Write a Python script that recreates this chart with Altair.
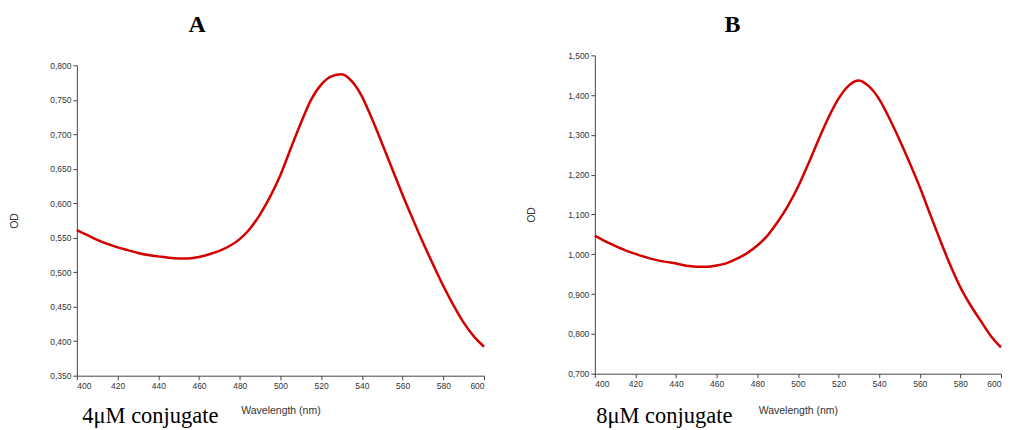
import altair as alt
import pandas as pd

wavelength = list(range(400, 601, 5))

od_4um = [0.561, 0.554, 0.547, 0.541, 0.536, 0.532, 0.528, 0.525, 0.523, 0.521,
          0.520, 0.520, 0.522, 0.526, 0.531, 0.538, 0.548, 0.563, 0.584, 0.610,
          0.641, 0.679, 0.716, 0.750, 0.772, 0.784, 0.787, 0.777, 0.755, 0.722,
          0.686, 0.649, 0.612, 0.577, 0.543, 0.511, 0.480, 0.452, 0.427, 0.407,
          0.392]

od_8um = [1.047, 1.033, 1.021, 1.010, 1.001, 0.993, 0.986, 0.981, 0.977, 0.971,
          0.969, 0.969, 0.972, 0.978, 0.989, 1.003, 1.022, 1.047, 1.081, 1.121,
          1.169, 1.226, 1.286, 1.343, 1.391, 1.424, 1.437, 1.422, 1.390, 1.342,
          1.288, 1.230, 1.169, 1.102, 1.036, 0.973, 0.917, 0.872, 0.833, 0.795,
          0.766]

x_ticks = list(range(400, 601, 20))
y_ticks_a = [0.35, 0.40, 0.45, 0.50, 0.55, 0.60, 0.65, 0.70, 0.75, 0.80]
y_ticks_b = [0.7, 0.8, 0.9, 1.0, 1.1, 1.2, 1.3, 1.4, 1.5]

panel_titles = ["A", "B"]
captions = ["4μM conjugate", "8μM conjugate"]

RED = "#d40000"
SERIF = "Liberation Serif"
SANS = "Liberation Sans"
label_expr = "replace(format(datum.value, '.3f'), '.', ',')"

W, H = 996, 422

# pixel frames of the two panels inside the single canvas
A_X, A_Y = [69, 477], [368, 57]
B_X, B_Y = [588, 995], [366, 47]


def curve(values, y_domain, y_ticks, xr, yr, od_title_dx, wl_title_dy):
    df = pd.DataFrame({"Wavelength": wavelength, "OD": values})
    x = alt.X("Wavelength:Q",
              scale=alt.Scale(domain=[400, 600], range=xr, nice=False, zero=False),
              axis=alt.Axis(orient="bottom", offset=-(H - yr[0]), values=x_ticks,
                            format="d", title="Wavelength (nm)",
                            titleX=(xr[0] + xr[1]) / 2, titleY=wl_title_dy,
                            titleAlign="center", titleBaseline="middle"))
    y = alt.Y("OD:Q",
              scale=alt.Scale(domain=y_domain, range=yr, nice=False, zero=False),
              axis=alt.Axis(orient="left", offset=-xr[0], values=y_ticks,
                            labelExpr=label_expr, title="OD",
                            titleX=od_title_dx, titleY=(yr[0] + yr[1]) / 2,
                            titleAlign="center", titleBaseline="middle",
                            titleAngle=270))
    return alt.Chart(df).mark_line(color=RED, strokeWidth=2.5,
                                   interpolate="monotone").encode(x=x, y=y)


def label(text, x, y, size, weight, align, baseline):
    one = pd.DataFrame({"t": [text]})
    return alt.Chart(one).mark_text(font=SERIF, fontSize=size, fontWeight=weight,
                                    color="#000", align=align, baseline=baseline).encode(
        x=alt.value(x), y=alt.value(y), text="t:N")


line_a = curve(od_4um, [0.35, 0.80], y_ticks_a, A_X, A_Y, -62, 35)
line_b = curve(od_8um, [0.70, 1.50], y_ticks_b, B_X, B_Y, -63, 37)

title_a = label(panel_titles[0], 189.5, 17, 24, "bold", "center", "middle")
title_b = label(panel_titles[1], 726, 17, 24, "bold", "center", "middle")
cap_a = label(captions[0], 74.5, 415, 22.5, "normal", "left", "alphabetic")
cap_b = label(captions[1], 589.5, 415, 22.5, "normal", "left", "alphabetic")

chart = alt.layer(line_a, line_b, title_a, title_b, cap_a, cap_b).resolve_scale(
    x="independent", y="independent"
).resolve_axis(
    x="independent", y="independent"
).properties(
    width=W, height=H,
    autosize=alt.AutoSizeParams(type="none"),
    padding=0,
).configure_view(stroke=None).configure_axis(
    labelFont=SANS, labelFontSize=8.5, labelColor="#333",
    titleFont=SANS, titleFontSize=10.5, titleFontWeight="normal", titleColor="#333",
    domainColor="#444", tickColor="#444", tickSize=4, labelPadding=2,
    grid=False
)

chart.save("out.html", embed_options={"renderer": "svg", "actions": False})
